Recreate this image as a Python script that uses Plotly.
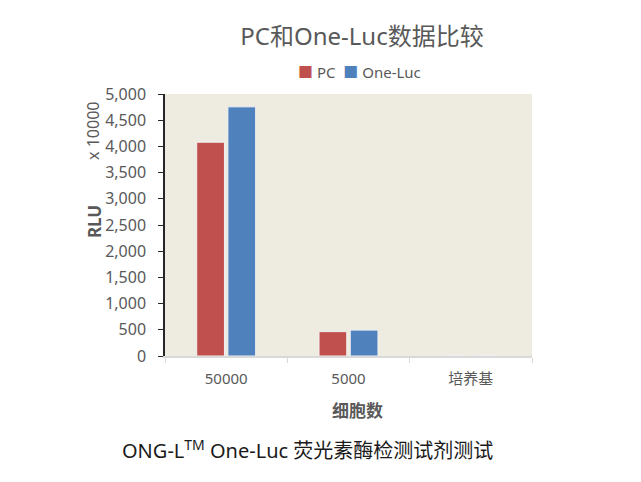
import plotly.graph_objects as go

# data
categories = ["50000", "5000", "培养基"]
pc_values = [4080, 465, 2]
oneluc_values = [4755, 495, 3]
series_names = ["PC", "One-Luc"]
series_colors = ["#C0504D", "#4F81BD"]

FONT = "Noto Sans, Noto Sans CJK SC, sans-serif"
GREY = "#595959"
PAGE_OFFSET = 8  # the page body adds an 8px margin

fig = go.Figure()
for name, vals, color in zip(series_names, [pc_values, oneluc_values], series_colors):
    fig.add_trace(go.Bar(name=name, x=categories, y=vals,
                         marker=dict(color=color, line=dict(color="#F2F2F2", width=1))))

fig.update_layout(
    width=641, height=482,
    margin=dict(l=165 - PAGE_OFFSET, r=641 - 532 + PAGE_OFFSET,
                t=94 - PAGE_OFFSET, b=482 - 356 + PAGE_OFFSET),
    paper_bgcolor="white",
    plot_bgcolor="#EEEBE0",
    barmode="group",
    bargap=0.49,
    bargroupgap=0.11,
    font=dict(family=FONT, color=GREY, size=14),
    title=dict(text="PC和One-Luc数据比较", x=(362 - PAGE_OFFSET) / 641, xref="container",
               xanchor="center", y=1 - (37 - PAGE_OFFSET) / 482, yref="container",
               yanchor="middle", font=dict(size=24, color=GREY)),
    showlegend=False,
)

fig.update_yaxes(range=[0, 5000], dtick=500, tickformat=",", showgrid=False,
                 showline=True, linecolor="#262626", linewidth=1.5,
                 ticks="outside", ticklen=5, tickcolor="#262626", ticklabelstandoff=9,
                 tickfont=dict(size=16, color=GREY), zeroline=False, automargin=False)
fig.update_xaxes(showline=True, linecolor="#D9D9D9", linewidth=1.5,
                 ticks="outside", tickson="boundaries", ticklen=5, tickcolor="#D9D9D9",
                 ticklabelstandoff=8, tickfont=dict(size=15, color=GREY), automargin=False)

# compact legend, like the original's
legend_text = "  ".join(
    f'<span style="color:{c}">■</span> {n}' for n, c in zip(series_names, series_colors)
)
fig.add_annotation(text=legend_text, xref="paper", yref="paper", x=0.530, y=1.084,
                   xanchor="center", yanchor="middle", showarrow=False,
                   font=dict(size=15, color=GREY))

fig.add_annotation(text="<b>RLU</b>", xref="paper", yref="paper", x=0, y=0.511,
                   xanchor="center", yanchor="middle", xshift=-71, textangle=-90,
                   showarrow=False, font=dict(size=17, color=GREY))
fig.add_annotation(text="x 10000", xref="paper", yref="paper", x=0, y=0.859,
                   xanchor="center", yanchor="middle", xshift=-72, textangle=-90,
                   showarrow=False, font=dict(size=16, color=GREY))
fig.add_annotation(text="<b>细胞数</b>", xref="paper", yref="paper",
                   x=(357 - 165) / 367, y=(356 - 410) / 262,
                   xanchor="center", yanchor="middle", showarrow=False,
                   font=dict(size=17, color=GREY))
fig.add_annotation(text="ONG-L<sup>TM</sup> One-Luc 荧光素酶检测试剂测试",
                   xref="paper", yref="paper", x=(307 - 165) / 367, y=(356 - 449) / 262,
                   xanchor="center", yanchor="middle", showarrow=False,
                   font=dict(size=20, color="#1a1a1a"))

fig.write_html("out.html")
